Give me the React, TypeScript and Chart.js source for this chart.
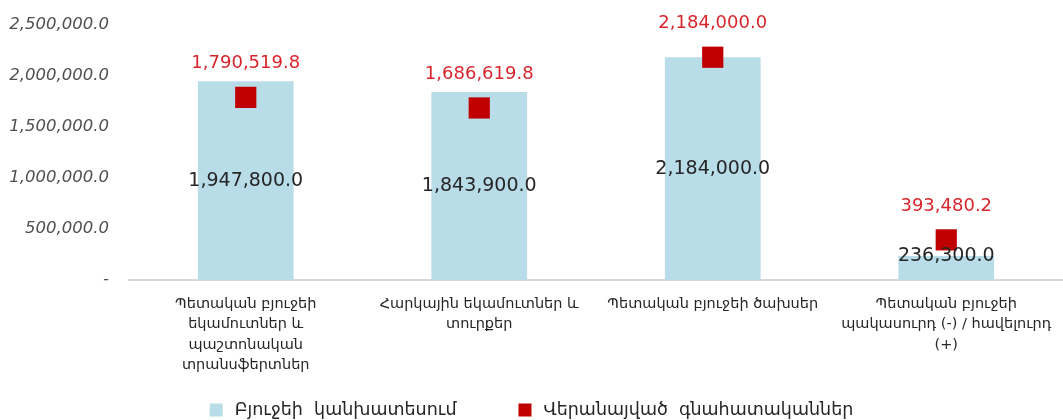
import React, { useEffect, useRef } from "react";
import { Chart, registerables } from "chart.js";

Chart.register(...registerables);

const categories: string[][] = [
  ["Պետական բյուջեի", "եկամուտներ և", "պաշտոնական", "տրանսֆերտներ"],
  ["Հարկային եկամուտներ և", "տուրքեր"],
  ["Պետական բյուջեի ծախսեր"],
  ["Պետական բյուջեի", "պակասուրդ (-) / հավելուրդ", "(+)"],
];
const forecastValues: number[] = [1947800.0, 1843900.0, 2184000.0, 236300.0];
const revisedValues: number[] = [1790519.8, 1686619.8, 2184000.0, 393480.2];
const seriesNames: string[] = ["Բյուջեի  կանխատեսում", "Վերանայված  գնահատականներ"];
const seriesColors: string[] = ["#b8dce8", "#c00000"];
const yMax = 2500000;
const yStep = 500000;

const fmt = (v: number) =>
  v.toLocaleString("en-US", { minimumFractionDigits: 1, maximumFractionDigits: 1 });

const FONT = "'DejaVu Sans', sans-serif";

const labelPlugin = {
  id: "valueLabels",
  afterDatasetsDraw(chart: any) {
    const ctx = chart.ctx;
    ctx.save();
    ctx.textAlign = "center";
    ctx.textBaseline = "middle";
    const barMeta = chart.getDatasetMeta(0);
    ctx.font = `19px ${FONT}`;
    ctx.fillStyle = "#262626";
    barMeta.data.forEach((el: any, i: number) => {
      const base = el.base;
      let y = (el.y + base) / 2;
      y = Math.min(y, base - 24);
      ctx.fillText(fmt(forecastValues[i]), el.x, y);
    });
    const ptMeta = chart.getDatasetMeta(1);
    ctx.font = `18px ${FONT}`;
    ctx.fillStyle = "#d9262c";
    ptMeta.data.forEach((el: any, i: number) => {
      ctx.fillText(fmt(revisedValues[i]), el.x, el.y - 34);
    });
    ctx.restore();
  },
};

const legendPlugin = {
  id: "customLegend",
  afterDraw(chart: any) {
    const ctx = chart.ctx;
    ctx.save();
    ctx.font = `17.5px ${FONT}`;
    ctx.textBaseline = "middle";
    const box = 13;
    const gapBoxText = 12;
    const gapItems = 62;
    const widths = seriesNames.map((n) => ctx.measureText(n).width);
    const total =
      widths.reduce((a, w) => a + box + gapBoxText + w, 0) + gapItems * (seriesNames.length - 1);
    let x = (chart.width - total) / 2;
    const cy = chart.height - 10;
    seriesNames.forEach((n, i) => {
      ctx.fillStyle = seriesColors[i];
      ctx.fillRect(x, cy - box / 2, box, box);
      x += box + gapBoxText;
      ctx.fillStyle = "#262626";
      ctx.textAlign = "left";
      ctx.fillText(n, x, cy);
      x += widths[i] + gapItems;
    });
    ctx.restore();
  },
};

export default function App() {
  const ref = useRef<HTMLCanvasElement>(null);
  useEffect(() => {
    if (!ref.current) return;
    const chart = new Chart(ref.current, {
      type: "bar",
      data: {
        labels: categories as any,
        datasets: [
          {
            type: "bar",
            label: seriesNames[0],
            data: forecastValues,
            backgroundColor: seriesColors[0],
            borderWidth: 0,
            barPercentage: 0.41,
            categoryPercentage: 1,
            order: 2,
          },
          {
            type: "line",
            label: seriesNames[1],
            data: revisedValues,
            showLine: false,
            pointStyle: "rect",
            pointRadius: 15,
            pointHoverRadius: 15,
            backgroundColor: seriesColors[1],
            borderColor: seriesColors[1],
            borderWidth: 0,
            clip: false,
            order: 1,
          } as any,
        ],
      },
      options: {
        animation: false,
        responsive: false,
        maintainAspectRatio: false,
        layout: { autoPadding: false, padding: { top: 25, right: 0, left: 0, bottom: 30 } },
        plugins: {
          tooltip: { enabled: false },
          legend: { display: false },
        },
        scales: {
          x: {
            grid: { display: false },
            border: { display: true, color: "#d9d9d9", width: 2 },
            ticks: {
              font: { family: FONT, size: 14.5, lineHeight: 1.4 },
              color: "#262626",
              maxRotation: 0,
              autoSkip: false,
              padding: 6,
            },
            afterFit: (s: any) => {
              s.height = 110;
              s.paddingLeft = 0;
              s.paddingRight = 0;
            },
          },
          y: {
            min: 0,
            max: yMax,
            grid: { display: false },
            border: { display: false },
            ticks: {
              stepSize: yStep,
              font: { family: FONT, size: 16.5, style: "italic" },
              color: "#505050",
              padding: 12,
              callback: (v: any) => (Number(v) === 0 ? "-" : fmt(Number(v))),
            },
            afterFit: (s: any) => {
              s.width = 129;
            },
          },
        },
      },
      plugins: [labelPlugin, legendPlugin],
    });
    return () => chart.destroy();
  }, []);
  return (
    <div style={{ position: "fixed", left: 0, top: 0, width: 1063, height: 420, background: "#fff" }}>
      <canvas ref={ref} width={1063} height={420} style={{ width: 1063, height: 420 }} />
    </div>
  );
}
